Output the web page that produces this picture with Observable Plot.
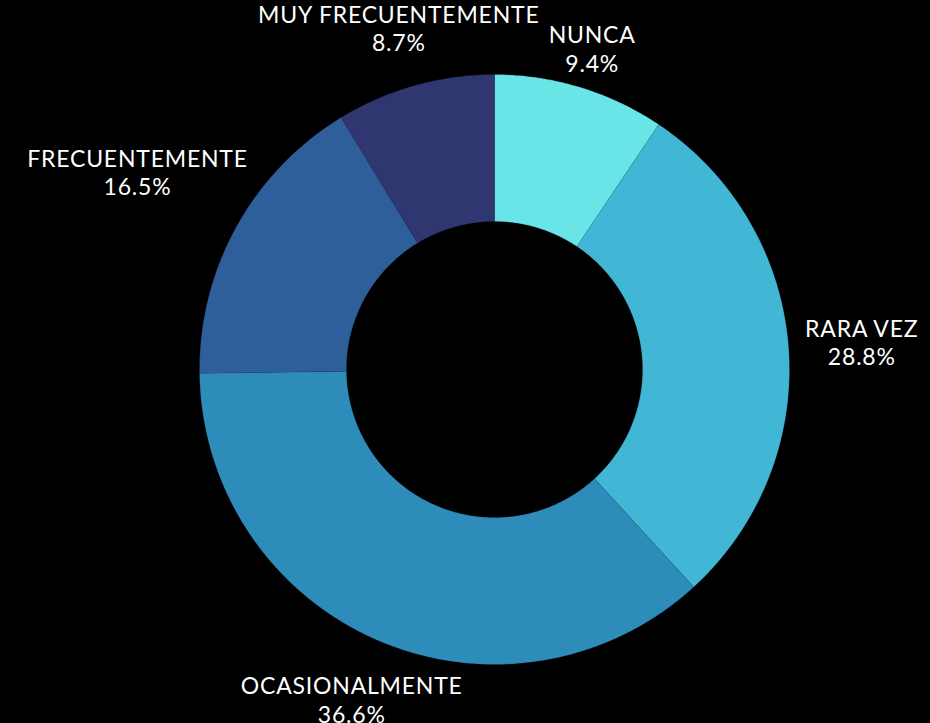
<!DOCTYPE html>
<html>
<head>
<meta charset="utf-8">
<script src="https://cdn.jsdelivr.net/npm/d3@7"></script>
<script src="https://cdn.jsdelivr.net/npm/@observablehq/plot@0.6"></script>
<style>
  html, body { margin: 0; padding: 0; background: #000; }
  #chart svg { display: block; }
</style>
</head>
<body>
<div id="chart"></div>
<script>
// Data (clockwise from 12 o'clock)
const categories = ["NUNCA", "RARA VEZ", "OCASIONALMENTE", "FRECUENTEMENTE", "MUY FRECUENTEMENTE"];
const values = [9.4, 28.8, 36.6, 16.5, 8.7];
const colors = ["#69e5e8", "#42b7d5", "#2e8cbb", "#2e5f9a", "#303670"];

const W = 930, H = 723;
const cx = 494, cy = 369, R = 295;   // layout
const innerRatio = 148 / 295;
const FONT = "Lato";
const FS = 23;
const LS = 0.8; // letter spacing px

const total = d3.sum(values);
const slices = [];
let acc = 0;
categories.forEach((name, i) => {
  const a0 = acc / total * 2 * Math.PI;
  acc += values[i];
  const a1 = acc / total * 2 * Math.PI;
  slices.push({name, value: values[i], a0, a1});
});

// polygon points for each slice in unit-circle data space (y up, angle clockwise from top)
const pts = [];
for (const s of slices) {
  const n = Math.max(8, Math.ceil((s.a1 - s.a0) / (Math.PI / 360)));
  for (let k = 0; k <= n; k++) {
    const a = s.a0 + (s.a1 - s.a0) * k / n;
    pts.push({name: s.name, x: Math.sin(a), y: Math.cos(a)});
  }
  for (let k = n; k >= 0; k--) {
    const a = s.a0 + (s.a1 - s.a0) * k / n;
    pts.push({name: s.name, x: innerRatio * Math.sin(a), y: innerRatio * Math.cos(a)});
  }
}

// label positions
const ctx = document.createElement("canvas").getContext("2d");
ctx.font = `${FS}px ${FONT}`;
const tw = t => ctx.measureText(t).width + LS * t.length;
const R0 = 311;
const labels = slices.map(s => {
  const am = (s.a0 + s.a1) / 2;
  const txt = s.name;
  const pct = s.value.toFixed(1) + "%";
  const w = Math.max(tw(txt), tw(pct));
  const off = Math.hypot((w / 2) * Math.sin(am), 22 * Math.cos(am));
  const r = (R0 + off) / R;
  return {x: r * Math.sin(am), y: r * Math.cos(am), text: txt + "\n" + pct};
});

const chart = Plot.plot({
  width: W,
  height: H,
  margin: 0,
  style: {background: "#000", fontFamily: FONT, letterSpacing: LS + "px"},
  x: {domain: [-cx / R, (W - cx) / R], axis: null},
  y: {domain: [-(H - cy) / R, cy / R], axis: null},
  color: {domain: categories, range: colors},
  marks: [
    Plot.line(pts, {x: "x", y: "y", z: "name", fill: "name", stroke: "#0a1a2a", strokeOpacity: 0.35, strokeWidth: 0.6, curve: "linear"}),
    Plot.text(labels, {x: "x", y: "y", text: "text", fill: "#ffffff", fontSize: FS, lineHeight: 1.24, textAnchor: "middle", fontFamily: FONT})
  ]
});
document.getElementById("chart").appendChild(chart);
</script>
</body>
</html>
